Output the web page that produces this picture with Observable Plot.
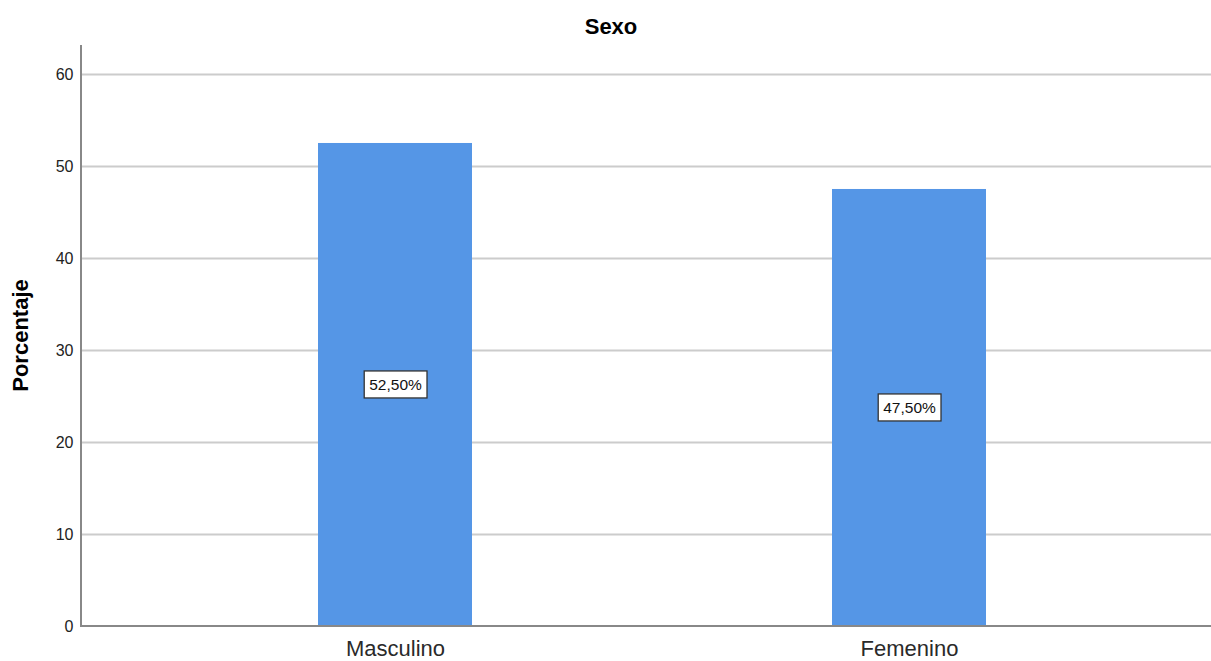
<!DOCTYPE html>
<html><head><meta charset="utf-8">
<script src="https://cdn.jsdelivr.net/npm/d3@7"></script>
<script src="https://cdn.jsdelivr.net/npm/@observablehq/plot@0.6"></script>
<style>
body{margin:0;background:#fff;font-family:"Liberation Sans",Arial,sans-serif;}
#title{position:relative;height:45px;width:1211px;}
#title span{position:absolute;left:611px;top:14px;transform:translateX(-50%);font-weight:bold;font-size:22px;line-height:26px;color:#000;}
</style></head>
<body>
<div id="title"><span>Sexo</span></div>
<div id="chart"></div>
<script>
const categories = ["Masculino", "Femenino"];
const percentages = [52.5, 47.5];
const valueLabels = ["52,50%", "47,50%"];
const yTicks = [0, 10, 20, 30, 40, 50, 60];

const data = categories.map((c, i) => ({cat: c, pct: percentages[i], label: valueLabels[i]}));

const chart = Plot.plot({
  width: 1211,
  height: 616,
  marginLeft: 81,
  marginRight: 0,
  marginTop: 0,
  marginBottom: 35,
  style: {fontFamily: "Liberation Sans, Arial, sans-serif", background: "#fff"},
  x: {domain: categories, range: [138, 1166], paddingInner: 0.7, paddingOuter: 0.35, label: null},
  y: {domain: [0, 63.15], label: null},
  marks: [
    Plot.ruleY(yTicks.filter(d => d > 0), {stroke: "#cccccc", strokeWidth: 2}),
    Plot.barY(data, {x: "cat", y: "pct", fill: "#5596e6"}),
    Plot.axisY({ticks: yTicks, tickSize: 0, tickPadding: 8, fontSize: 16, fill: "#222", label: null}),
    Plot.axisX({tickSize: 0, tickPadding: 14, fontSize: 22, fill: "#2a2a2a", label: null}),
    Plot.text(data, {x: "cat", y: d => d.pct / 2, text: "label", fontSize: 15.5, fill: "#111", className: "vlabel"})
  ]
});
document.getElementById("chart").appendChild(chart);

const svg = d3.select(chart);
// axis lines
svg.append("line").attr("x1", 81).attr("x2", 81).attr("y1", 0).attr("y2", 582)
  .attr("stroke", "#888").attr("stroke-width", 2);
svg.append("line").attr("x1", 80).attr("x2", 1211).attr("y1", 581).attr("y2", 581)
  .attr("stroke", "#888").attr("stroke-width", 2);

// y axis title
svg.append("text").attr("transform", "translate(22,290.5) rotate(-90)")
  .attr("text-anchor", "middle").attr("dominant-baseline", "middle")
  .attr("font-size", 22).attr("font-weight", "bold").attr("fill", "#000")
  .attr("font-family", "Liberation Sans, Arial, sans-serif")
  .text("Porcentaje");

// boxes behind value labels
svg.selectAll("g.vlabel text").each(function() {
  const b = this.getBBox();
  const t = this.getAttribute("transform") || "";
  d3.select(this.parentNode).insert("rect", () => this)
    .attr("transform", t)
    .attr("x", b.x - 5).attr("y", b.y - 5)
    .attr("width", b.width + 10).attr("height", b.height + 10)
    .attr("fill", "#fff").attr("stroke", "#333").attr("stroke-width", 1.3);
});
</script>
</body></html>
